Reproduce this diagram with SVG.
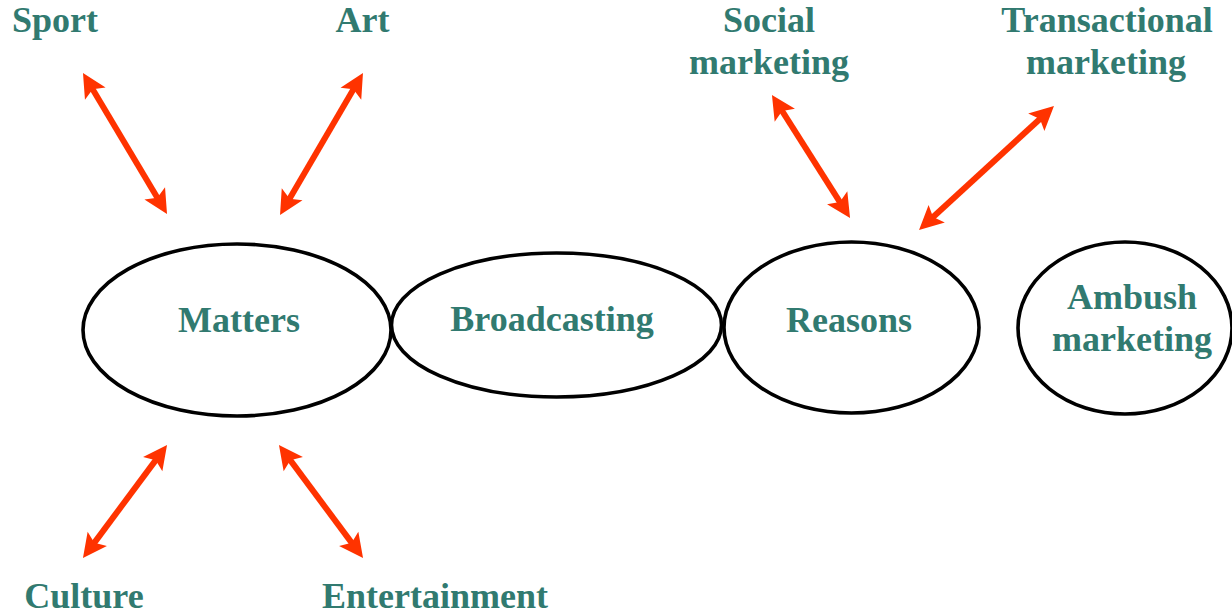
<svg xmlns="http://www.w3.org/2000/svg" width="1232" height="613" viewBox="0 0 1232 613">
  <style>
    .lbl { font-family: "Liberation Serif", "Times New Roman", serif; font-weight: bold; font-size: 36px; fill: #317A70; text-anchor: middle; }
    .node { fill: none; stroke: #000; stroke-width: 3.6; }
    .link { stroke: #FF3300; stroke-width: 6; fill: none; marker-start: url(#head); marker-end: url(#head); }
  </style>
  <defs>
    <marker id="head" markerUnits="userSpaceOnUse" markerWidth="26" markerHeight="24" refX="6" refY="12" orient="auto-start-reverse" overflow="visible">
      <path d="M0,0 L24,12 L0,24 L5,12 Z" fill="#FF3300"/>
    </marker>
  </defs>
  <rect width="1232" height="613" fill="#fff"/>

  <!-- central chain of ellipses -->
  <g id="matters">
    <ellipse class="node" cx="237" cy="330" rx="154" ry="86"/>
    <text class="lbl" x="239" y="332">Matters</text>
  </g>
  <g id="broadcasting">
    <ellipse class="node" cx="556.5" cy="325" rx="165" ry="72"/>
    <text class="lbl" x="552" y="331">Broadcasting</text>
  </g>
  <g id="reasons">
    <ellipse class="node" cx="851.5" cy="327.5" rx="127.5" ry="85.5"/>
    <text class="lbl" x="849" y="332">Reasons</text>
  </g>
  <g id="ambush">
    <ellipse class="node" cx="1125" cy="328" rx="107" ry="86"/>
    <text class="lbl" x="1132" y="309">Ambush</text>
    <text class="lbl" x="1132" y="351">marketing</text>
  </g>

  <!-- outer labels -->
  <g id="sport"><text class="lbl" x="55" y="32">Sport</text></g>
  <g id="art"><text class="lbl" x="362.5" y="32">Art</text></g>
  <g id="social">
    <text class="lbl" x="769" y="32">Social</text>
    <text class="lbl" x="769" y="74">marketing</text>
  </g>
  <g id="transactional">
    <text class="lbl" x="1107" y="32">Transactional</text>
    <text class="lbl" x="1106" y="74">marketing</text>
  </g>
  <g id="culture"><text class="lbl" x="84" y="608">Culture</text></g>
  <g id="entertainment"><text class="lbl" x="435" y="608">Entertainment</text></g>

  <!-- double-headed connectors -->
  <g id="connectors">
    <line class="link" x1="92.2" y1="88.5" x2="157.8" y2="198.5"/>
    <line class="link" x1="353.9" y1="88.5" x2="289.1" y2="199.5"/>
    <line class="link" x1="781.6" y1="110.2" x2="840.4" y2="202.8"/>
    <line class="link" x1="1040.7" y1="118.2" x2="932.3" y2="217.8"/>
    <line class="link" x1="156.3" y1="459.4" x2="93.7" y2="543.6"/>
    <line class="link" x1="289.7" y1="459.4" x2="352.3" y2="543.6"/>
  </g>
</svg>
